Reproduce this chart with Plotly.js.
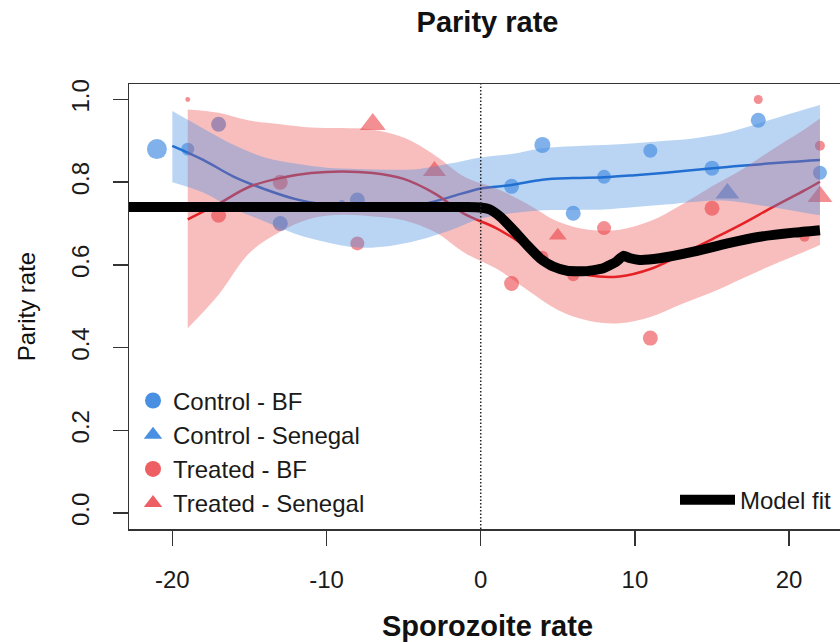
<!DOCTYPE html>
<html>
<head>
<meta charset="utf-8">
<script src="https://cdn.plot.ly/plotly-3.0.1.min.js"></script>
<style>
  html, body { margin: 0; padding: 0; overflow: hidden; background: #fff; }
  #chart { width: 850px; height: 642px; }
</style>
</head>
<body>
<div id="chart"></div>
<script>
// ---- Observed parity rates (points sized by sample size) ----
const ctrlBF_x = [-21, -19, -17, -13, -9, -8, 2, 4, 6, 8, 11, 15, 18, 22];
const ctrlBF_y = [0.88, 0.88, 0.94, 0.70, 0.75, 0.757, 0.79, 0.89, 0.725, 0.813, 0.876, 0.834, 0.95, 0.823];
const ctrlBF_n = [100, 42, 56, 56, 9, 56, 56, 64, 56, 49, 49, 56, 56, 49];

const ctrlSN_x = [16];
const ctrlSN_y = [0.773];
const ctrlSN_n = [108];

const trtBF_x = [-19, -17, -13, -8, 2, 4, 6, 8, 11, 15, 18, 21, 22];
const trtBF_y = [1.0, 0.72, 0.80, 0.652, 0.555, 0.62, 0.575, 0.689, 0.423, 0.737, 1.0, 0.668, 0.888];
const trtBF_n = [6, 56, 56, 49, 56, 36, 36, 49, 56, 56, 20, 25, 25];

const trtSN_x = [-7, -3, 5, 22];
const trtSN_y = [0.94, 0.827, 0.671, 0.765];
const trtSN_n = [127, 100, 61, 117];

// ---- Loess smooths with confidence bands ----
const ctrlFit_x = [-20, -18, -16, -14, -12, -10, -8, -6, -4, -2, 0, 2, 4, 6, 8, 10, 12, 14, 16, 18, 20, 22];
const ctrlFit_y = [0.888, 0.854, 0.813, 0.783, 0.759, 0.745, 0.737, 0.737, 0.745, 0.764, 0.785, 0.793, 0.806, 0.810, 0.812, 0.817, 0.823, 0.830, 0.837, 0.843, 0.849, 0.854];
const ctrlFit_hi = [0.972, 0.930, 0.890, 0.860, 0.845, 0.835, 0.832, 0.830, 0.832, 0.845, 0.860, 0.868, 0.882, 0.887, 0.890, 0.894, 0.900, 0.907, 0.920, 0.942, 0.965, 0.987];
const ctrlFit_lo = [0.800, 0.775, 0.735, 0.705, 0.675, 0.655, 0.642, 0.645, 0.660, 0.683, 0.712, 0.725, 0.732, 0.733, 0.734, 0.740, 0.746, 0.753, 0.755, 0.745, 0.733, 0.720];

const trtFit_x = [-19, -17, -15, -13, -11, -9, -7, -5, -3, -1, 1, 3, 5, 7, 9, 11, 13, 15, 17, 19, 21, 22];
const trtFit_y = [0.710, 0.748, 0.789, 0.810, 0.822, 0.826, 0.822, 0.808, 0.773, 0.722, 0.689, 0.644, 0.598, 0.575, 0.572, 0.590, 0.625, 0.662, 0.700, 0.741, 0.780, 0.801];
const trtFit_hi = [0.976, 0.968, 0.949, 0.940, 0.932, 0.931, 0.927, 0.908, 0.866, 0.812, 0.785, 0.748, 0.705, 0.685, 0.685, 0.706, 0.745, 0.790, 0.832, 0.881, 0.928, 0.954];
const trtFit_lo = [0.447, 0.528, 0.629, 0.680, 0.712, 0.721, 0.717, 0.708, 0.680, 0.628, 0.591, 0.540, 0.491, 0.465, 0.459, 0.474, 0.505, 0.534, 0.568, 0.601, 0.632, 0.648];

// ---- Model fit ----
const model_x = [-23, -15, -5, -1, 0, 0.6, 1.25, 2.1, 3.0, 3.85, 4.7, 5.6, 6.9, 7.95, 8.8, 9.25, 9.7, 10.3, 11.6, 13.8, 16, 18.1, 20.3, 22];
const model_y = [0.74, 0.74, 0.74, 0.74, 0.739, 0.734, 0.717, 0.685, 0.648, 0.616, 0.596, 0.586, 0.585, 0.592, 0.608, 0.622, 0.616, 0.612, 0.616, 0.632, 0.652, 0.668, 0.678, 0.684];

// ---- Axes ----
const xTickVals = [-20, -10, 0, 10, 20];
const xTickText = ['-20', '-10', '0', '10', '20'];
const yTickVals = [0, 0.2, 0.4, 0.6, 0.8, 1.0];
const yTickText = ['0.0', '0.2', '0.4', '0.6', '0.8', '1.0'];
const vLineX = 0;

const FONT = 'Liberation Sans, Arial, Helvetica, sans-serif';
const BLUE = '#4A90E2';
const RED = '#EE5F64';
const diam = n => n.map(v => 2 * Math.sqrt(v));

function pts(x, y, n, color, symbol) {
  return {
    type: 'scatter', mode: 'markers', x: x, y: y, showlegend: false, hoverinfo: 'skip',
    marker: { color: color, symbol: symbol, size: diam(n), line: { width: 0 } }
  };
}
function band(x, lo, hi, fill) {
  return [
    { type: 'scatter', mode: 'lines', x: x, y: lo, showlegend: false, hoverinfo: 'skip',
      line: { width: 0, shape: 'spline' } },
    { type: 'scatter', mode: 'lines', x: x, y: hi, showlegend: false, hoverinfo: 'skip',
      line: { width: 0, shape: 'spline' }, fill: 'tonexty', fillcolor: fill }
  ];
}
function key(name, color, symbol) {
  return { type: 'scatter', mode: 'markers', x: [null], y: [null], name: name, legend: 'legend',
    marker: { color: color, symbol: symbol, size: 16 } };
}

const traces = [
  pts(ctrlBF_x, ctrlBF_y, ctrlBF_n, BLUE, 'circle'),
  pts(ctrlSN_x, ctrlSN_y, ctrlSN_n, BLUE, 'triangle-up'),
  pts(trtBF_x, trtBF_y, trtBF_n, RED, 'circle'),
  pts(trtSN_x, trtSN_y, trtSN_n, RED, 'triangle-up'),
  { type: 'scatter', mode: 'lines', x: ctrlFit_x, y: ctrlFit_y, showlegend: false, hoverinfo: 'skip',
    line: { color: '#0B5BC9', width: 2.5, shape: 'spline' } },
  { type: 'scatter', mode: 'lines', x: trtFit_x, y: trtFit_y, showlegend: false, hoverinfo: 'skip',
    line: { color: '#E3161C', width: 2.5, shape: 'spline' } },
  ...band(trtFit_x, trtFit_lo, trtFit_hi, 'rgba(234,58,58,0.33)'),
  ...band(ctrlFit_x, ctrlFit_lo, ctrlFit_hi, 'rgba(74,144,226,0.38)'),
  { type: 'scatter', mode: 'lines', x: model_x, y: model_y, name: 'Model fit', legend: 'legend2',
    line: { color: '#000', width: 10, shape: 'spline', smoothing: 0.5 } },
  key('Control - BF', BLUE, 'circle'),
  key('Control - Senegal', BLUE, 'triangle-up'),
  key('Treated - BF', RED, 'circle'),
  key('Treated - Senegal', RED, 'triangle-up')
];

const axisCommon = {
  showline: true, mirror: true, linecolor: '#333', linewidth: 1.5,
  ticks: 'outside', ticklen: 15, tickwidth: 1.5, tickcolor: '#333',
  showgrid: false, zeroline: false, automargin: false,
  tickfont: { family: FONT, size: 24, color: '#1a1a1a' }
};

const layout = {
  width: 850, height: 642,
  margin: { l: 129, r: 4, t: 84, b: 113 },
  paper_bgcolor: '#fff', plot_bgcolor: '#fff',
  font: { family: FONT, size: 24, color: '#1a1a1a' },
  title: { text: '<b>Parity rate</b>', font: { family: FONT, size: 29, color: '#111' },
    x: 0.5, xref: 'paper', xanchor: 'center', y: 1 - 22 / 642, yref: 'container', yanchor: 'middle' },
  xaxis: Object.assign({}, axisCommon, {
    range: [-22.81, 23.69], tickmode: 'array', tickvals: xTickVals, ticktext: xTickText,
    ticklabelstandoff: 14,
    title: { text: '<b>Sporozoite rate</b>', font: { family: FONT, size: 29, color: '#111' }, standoff: 25 }
  }),
  yaxis: Object.assign({}, axisCommon, {
    range: [-0.0387, 1.0375], tickmode: 'array', tickvals: yTickVals, ticktext: yTickText,
    tickangle: -90, ticklabelstandoff: 14,
    title: { text: 'Parity rate', font: { family: FONT, size: 24, color: '#111' }, standoff: 24 }
  }),
  showlegend: true,
  legend: { x: 0.0056, y: 0.3384, xanchor: 'left', yanchor: 'top', bgcolor: 'rgba(0,0,0,0)',
    font: { family: FONT, size: 24, color: '#1a1a1a' }, itemwidth: 30, traceorder: 'normal' },
  legend2: { x: (675 - 129) / 717, y: (529.3 - 478) / 445.3, xanchor: 'left', yanchor: 'top',
    bgcolor: 'rgba(0,0,0,0)', font: { family: FONT, size: 24, color: '#1a1a1a' }, itemwidth: 55 },
  shapes: [{ type: 'line', xref: 'x', yref: 'paper', x0: vLineX, x1: vLineX, y0: 0, y1: 1,
    line: { color: '#222', width: 1.5, dash: '1.5px,2px' }, layer: 'above' }]
};

Plotly.newPlot('chart', traces, layout, { displayModeBar: false, staticPlot: true });
</script>
</body>
</html>
